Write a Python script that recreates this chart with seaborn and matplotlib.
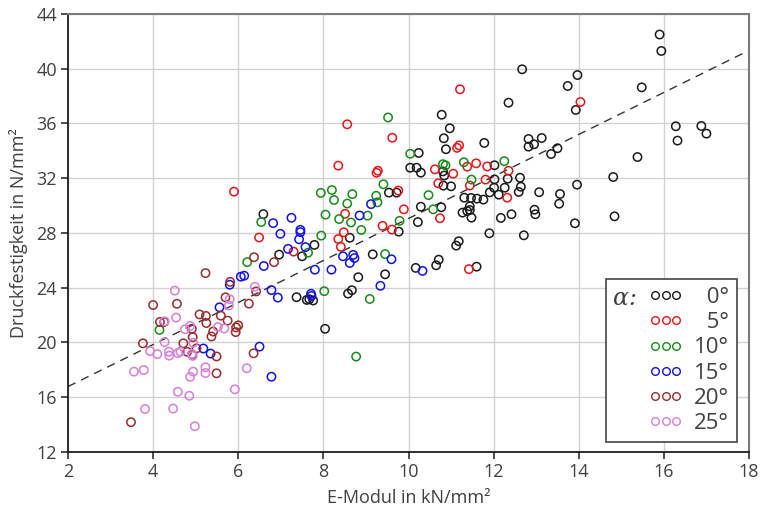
import numpy as np
import pandas as pd
import matplotlib
matplotlib.use("Agg")
import matplotlib.pyplot as plt
import seaborn as sns
from matplotlib.lines import Line2D
from matplotlib.legend_handler import HandlerLine2D

# Fibre angle groups and their colours
angles = ["0°", "5°", "10°", "15°", "20°", "25°"]
colors = ["#1a1a1a", "#e81418", "#168a16", "#1010f0", "#9a2b2b", "#d77ed7"]

# E-Modul (kN/mm²) and Druckfestigkeit (N/mm²) per angle group
e_00 = [15.90, 15.94, 12.67, 13.97, 13.74, 15.48, 12.35, 13.93, 16.28, 16.32,
        16.88, 17.00, 15.38, 14.81, 14.84, 13.96, 13.91, 13.56, 13.54, 13.35,
        13.50, 13.13, 12.82, 12.95, 12.82, 11.78, 10.78, 10.97, 10.83, 10.88,
        10.24, 10.04, 10.19, 10.29, 10.81, 10.84, 10.82, 11.00, 12.02, 12.02,
        12.01, 11.91, 12.12, 12.26, 12.33, 12.62, 12.64, 12.59, 13.07, 11.31,
        11.47, 11.61, 11.76, 11.27, 11.38, 11.44, 11.44, 11.48, 11.12, 11.18,
        11.90, 12.17, 12.42, 12.96, 12.98, 12.71, 10.29, 10.77, 10.22, 9.77,
        9.54, 9.72, 9.16, 10.71, 10.65, 10.17, 9.45, 11.60, 6.59, 7.79,
        8.62, 7.50, 6.96, 8.82, 8.58, 8.67, 7.37, 7.61, 7.67, 7.76, 8.04]
f_00 = [42.50, 41.30, 39.96, 39.54, 38.74, 38.64, 37.52, 36.99, 35.80, 34.75,
        35.82, 35.26, 33.55, 32.09, 29.22, 31.53, 28.71, 30.85, 30.14, 33.77,
        34.19, 34.94, 34.87, 34.48, 34.31, 34.58, 36.64, 35.65, 34.92, 34.12,
        33.85, 32.77, 32.77, 32.41, 32.50, 32.20, 31.46, 31.41, 32.95, 31.92,
        31.31, 30.97, 30.80, 31.31, 31.97, 32.04, 31.38, 31.00, 30.98, 30.58,
        30.56, 30.51, 30.44, 29.49, 29.60, 29.95, 29.68, 29.12, 27.08, 27.40,
        27.98, 29.10, 29.37, 29.70, 29.37, 27.83, 29.92, 29.88, 28.80, 28.10,
        30.95, 30.95, 26.44, 26.05, 25.64, 25.45, 24.98, 25.54, 29.38, 27.13,
        27.65, 26.30, 26.42, 24.77, 23.57, 23.82, 23.31, 23.11, 23.16, 23.07, 21.00]

e_05 = [11.21, 14.04, 9.62, 11.19, 11.14, 10.62, 11.05, 11.38, 11.59, 11.85,
        12.35, 10.70, 11.44, 11.81, 12.32, 10.74, 9.89, 9.61, 9.39, 9.76,
        9.25, 9.28, 11.42, 5.90, 8.56, 8.35, 8.51, 8.48, 8.35, 8.41, 6.49, 7.30]
f_05 = [38.50, 37.57, 34.96, 34.40, 34.22, 32.65, 32.33, 32.85, 33.09, 32.86,
        32.55, 31.63, 31.47, 31.90, 30.58, 29.08, 29.73, 28.25, 28.52, 31.10,
        32.40, 32.55, 25.36, 31.02, 35.94, 32.92, 29.40, 28.05, 27.56, 26.99,
        27.67, 26.64]

e_10 = [9.52, 10.04, 10.81, 10.87, 11.30, 12.25, 11.48, 10.47, 10.58, 9.79,
        9.45, 9.41, 9.24, 9.27, 7.94, 8.20, 8.25, 8.56, 8.68, 8.05,
        8.37, 8.65, 9.04, 8.89, 7.95, 6.54, 7.64, 6.21, 8.02, 9.09, 8.77, 4.15]
f_10 = [36.44, 33.79, 33.03, 32.94, 33.17, 33.25, 31.90, 30.77, 29.73, 28.89,
        26.46, 31.56, 30.72, 30.24, 30.93, 31.14, 30.41, 30.15, 30.84, 29.34,
        29.02, 28.77, 29.27, 28.22, 27.81, 28.80, 26.56, 25.87, 23.75, 23.18,
        18.97, 20.92]

e_15 = [9.60, 10.33, 9.34, 9.12, 8.85, 6.82, 7.25, 6.99, 7.46, 7.46,
        7.43, 7.58, 7.17, 8.46, 8.70, 8.73, 8.62, 6.60, 6.06, 6.14,
        5.80, 7.80, 8.19, 6.78, 6.93, 7.71, 7.72, 5.56, 5.18, 5.35, 6.50, 6.78]
f_15 = [26.08, 25.23, 24.14, 30.11, 29.28, 28.72, 29.11, 27.94, 28.23, 28.06,
        27.54, 26.97, 26.84, 26.30, 26.40, 26.17, 25.81, 25.59, 24.81, 24.88,
        24.22, 25.32, 25.32, 23.83, 23.28, 23.56, 23.40, 22.57, 19.56, 19.19,
        19.70, 17.50]

e_20 = [6.37, 6.84, 5.81, 6.42, 6.25, 5.23, 6.00, 5.95, 5.94, 5.75,
        5.59, 5.70, 5.09, 5.24, 5.25, 5.41, 5.37, 5.02, 5.49, 5.49,
        4.91, 4.93, 4.80, 4.71, 3.76, 3.48, 4.00, 4.56, 4.16, 4.26, 6.36, 4.92]
f_20 = [26.23, 25.87, 24.43, 23.73, 22.84, 25.07, 21.25, 21.10, 20.76, 21.60,
        21.96, 23.30, 22.05, 21.94, 21.42, 20.80, 20.44, 19.57, 18.98, 17.75,
        21.00, 20.39, 19.32, 19.94, 19.94, 14.18, 22.74, 22.83, 21.50, 21.50,
        19.21, 19.12]

e_25 = [6.39, 5.92, 6.20, 5.67, 5.52, 5.80, 5.78, 5.23, 5.23, 4.87,
        4.94, 4.93, 4.91, 4.94, 4.87, 4.85, 4.98, 4.58, 4.47, 3.81,
        3.55, 3.78, 3.93, 4.10, 4.37, 4.38, 4.58, 4.64, 4.75, 4.27,
        4.54, 4.51, 4.27]
f_25 = [24.07, 16.58, 18.12, 21.02, 21.13, 23.16, 22.70, 18.19, 17.77, 21.21,
        19.98, 19.02, 19.16, 17.87, 17.49, 16.11, 13.88, 16.40, 15.17, 15.14,
        17.87, 17.99, 19.37, 19.15, 19.33, 19.04, 19.23, 19.33, 20.97, 20.03,
        21.82, 23.79, 21.55]

# Linear trend line (Druckfestigkeit = a + b * E-Modul)
fit_intercept = 13.71
fit_slope = 1.535
fit_range = [2.0, 18.0]

x_ticks = [2, 4, 6, 8, 10, 12, 14, 16, 18]
y_ticks = [12, 16, 20, 24, 28, 32, 36, 40, 44]

groups = [(e_00, f_00), (e_05, f_05), (e_10, f_10),
          (e_15, f_15), (e_20, f_20), (e_25, f_25)]
frames = []
for ang, (e, f) in zip(angles, groups):
    frames.append(pd.DataFrame({"emod": e, "fc": f, "alpha": ang}))
df = pd.concat(frames, ignore_index=True)

sns.set_theme(style="whitegrid")
plt.rcParams["font.family"] = ["Open Sans", "DejaVu Sans"]
text_color = "#404040"

fig = plt.figure(figsize=(7.64, 5.17), dpi=100)
ax = fig.add_axes([68 / 764, 1 - 452 / 517, 681 / 764, 438 / 517])
ax.set_facecolor("white")

# trend line
line_x = np.array(fit_range)
sns.lineplot(x=line_x, y=fit_intercept + fit_slope * line_x, ax=ax,
             color="#333333", linewidth=1.0, linestyle=(0, (6, 4.5)), zorder=2)

# open circles per angle group
for ang, col in zip(angles, colors):
    sub = df[df["alpha"] == ang]
    sns.scatterplot(data=sub, x="emod", y="fc", ax=ax, s=36, marker="o",
                    facecolor="none", edgecolor=col, linewidth=1.1, zorder=3)

ax.set_xlim(2, 18)
ax.set_ylim(12, 44)
ax.set_xticks(x_ticks)
ax.set_yticks(y_ticks)
ax.grid(True, color="#d2d2d2", linewidth=1.0)
ax.set_axisbelow(True)

for side in ["left", "bottom"]:
    ax.spines[side].set_color("#1e1e1e")
    ax.spines[side].set_linewidth(1.3)
for side in ["top", "right"]:
    ax.spines[side].set_color("#7a7a7a")
    ax.spines[side].set_linewidth(1.5)

ax.tick_params(axis="both", which="major", length=5, width=1.1,
               color="#1e1e1e", labelsize=13, labelcolor=text_color, pad=3,
               bottom=True, left=True)
ax.set_xlabel("E-Modul in kN/mm²", fontsize=13, color=text_color, labelpad=6)
ax.set_ylabel("Druckfestigkeit in N/mm²", fontsize=13, color=text_color, labelpad=6)


class RightPoints(HandlerLine2D):
    """Place the three legend markers in the right part of the handle box."""
    def get_xdata(self, legend, xdescent, ydescent, width, height, fontsize):
        xs = np.linspace(-xdescent + 0.60 * width, -xdescent + 0.90 * width, 3)
        return xs, xs


handles = [Line2D([], [], marker="o", linestyle="none", markerfacecolor="none",
                  markeredgecolor=c, markersize=5.5, markeredgewidth=1.0)
           for c in colors]
labels = [a if len(a) > 2 else "\u2007" + a for a in angles]
leg = ax.legend(handles, labels, loc="lower right",
                bbox_to_anchor=(0.982, 0.023), borderaxespad=0,
                fontsize=16, labelcolor=text_color, frameon=True,
                fancybox=False, framealpha=1, edgecolor="#444444",
                handlelength=3.1, handletextpad=0.5, labelspacing=0.19,
                borderpad=0.35,
                handler_map={Line2D: RightPoints(numpoints=3)})
leg.get_frame().set_linewidth(1.2)
leg.set_zorder(5)
ax.annotate("α:", xy=(0.05, 0.955), xycoords=leg, ha="left", va="top",
            fontsize=17, family="DejaVu Serif", style="italic",
            color=text_color, zorder=10, annotation_clip=False)

fig.savefig("out.png", dpi=100)
